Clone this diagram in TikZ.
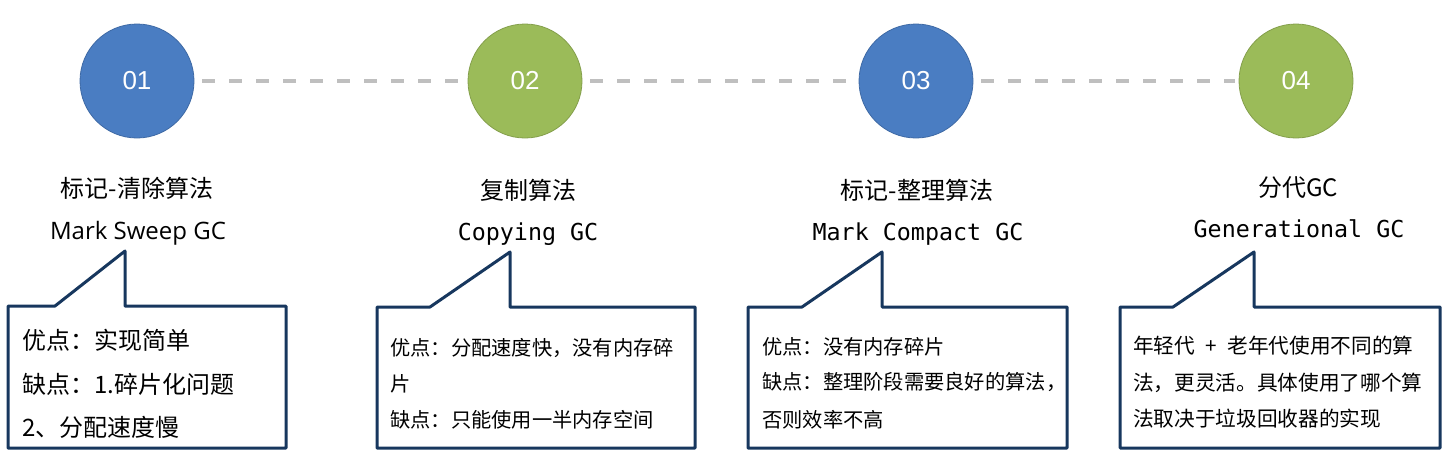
\documentclass[tikz,border=0pt]{standalone}
\usepackage{fontspec}
\setmainfont{Noto Sans CJK SC}
\newfontfamily\latfont{Open Sans}
\newfontfamily\monofont{DejaVu Sans Mono}
\newfontfamily\numfont{Liberation Sans}
\definecolor{cblue}{HTML}{4A7DC2}
\definecolor{cgreen}{HTML}{9BBB59}
\definecolor{dashgray}{HTML}{BFBFBF}
\definecolor{navy}{HTML}{17375E}
\tikzset{
  stepcircle/.style={circle, minimum size=85.5pt, inner sep=0pt, text=white,
    font={\numfont\fontsize{19.5}{22}\selectfont}},
  bluec/.style={stepcircle, fill=cblue, draw=cblue!85!black, line width=0.6pt},
  greenc/.style={stepcircle, fill=cgreen, draw=cgreen!85!black, line width=0.6pt},
  dashline/.style={draw=dashgray, line width=3pt, dash pattern=on 9.75pt off 10.5pt, shorten <=6pt, shorten >=3pt},
  cntitle/.style={anchor=base, inner sep=0pt, font={\fontsize{18}{22}\selectfont}},
  entitle/.style={anchor=base, inner sep=0pt, font={\latfont\fontsize{18}{22}\selectfont}},
  monotitle/.style={anchor=base, inner sep=0pt, font={\monofont\fontsize{17.5}{22}\selectfont}},
  callout/.style={draw=navy, line width=2.25pt, line join=round, fill=white},
  boxtextA/.style={anchor=base west, inner sep=0pt, font={\fontsize{18}{22}\selectfont}},
  boxtextB/.style={anchor=base west, inner sep=0pt, font={\fontsize{15.2}{20}\selectfont}},
  boxtextC/.style={anchor=base west, inner sep=0pt, font={\fontsize{15.5}{20}\selectfont}},
}
\begin{document}
\begin{tikzpicture}[x=0.75pt, y=-0.75pt]
\useasboundingbox (0,0) rectangle (1445,451);
% circles
\node[bluec]  (c1) at (137,81)  {01};
\node[greenc] (c2) at (525,81)  {02};
\node[bluec]  (c3) at (916,81)  {03};
\node[greenc] (c4) at (1296,81) {04};
\draw[dashline] (c1) -- (c2);
\draw[dashline] (c2) -- (c3);
\draw[dashline] (c3) -- (c4);
% titles
\node[cntitle] (t1a) at (137,197) {标记-清除算法};
\node[entitle] (t1b) at (138,239) {Mark Sweep GC};
\node[cntitle] (t2a) at (528,199) {复制算法};
\node[monotitle] (t2b) at (528,240) {Copying GC};
\node[cntitle] (t3a) at (917,199) {标记-整理算法};
\node[monotitle] (t3b) at (918,240) {Mark Compact GC};
\node[cntitle] (t4a) at (1298,196) {分代GC};
\node[monotitle] (t4b) at (1299,237) {Generational GC};
% callouts
\draw[callout] (8,306) -- (55,306) -- (125,251) -- (125,306) -- (286,306) -- (286,448) -- (8,448) -- cycle;
\draw[callout] (377,307) -- (430,307) -- (510,252) -- (510,307) -- (695,307) -- (695,448) -- (377,448) -- cycle;
\draw[callout] (748,307) -- (802,307) -- (882,252) -- (882,307) -- (1067,307) -- (1067,448) -- (748,448) -- cycle;
\draw[callout] (1120,307) -- (1173,307) -- (1254,252) -- (1254,307) -- (1440,307) -- (1440,448) -- (1120,448) -- cycle;
% box texts
\node[boxtextA] (b1l1) at (22,349) {优点：实现简单};
\node[boxtextA] (b1l2) at (22,393) {缺点：1.碎片化问题};
\node[boxtextA] (b1l3) at (22,436) {2、分配速度慢};
\node[boxtextB] (b2l1) at (390,355) {优点：分配速度快，没有内存碎};
\node[boxtextB] (b2l2) at (390,391) {片};
\node[boxtextB] (b2l3) at (390,427) {缺点：只能使用一半内存空间};
\node[boxtextB] (b3l1) at (762,354) {优点：没有内存碎片};
\node[boxtextB] (b3l2) at (762,389) {缺点：整理阶段需要良好的算法，};
\node[boxtextB] (b3l3) at (762,427) {否则效率不高};
\node[boxtextC] (b4l1) at (1133,353) {年轻代{\enspace}+{\enspace}老年代使用不同的算};
\node[boxtextC] (b4l2) at (1133,390) {法，更灵活。具体使用了哪个算};
\node[boxtextC] (b4l3) at (1133,426) {法取决于垃圾回收器的实现};
\end{tikzpicture}
\end{document}
